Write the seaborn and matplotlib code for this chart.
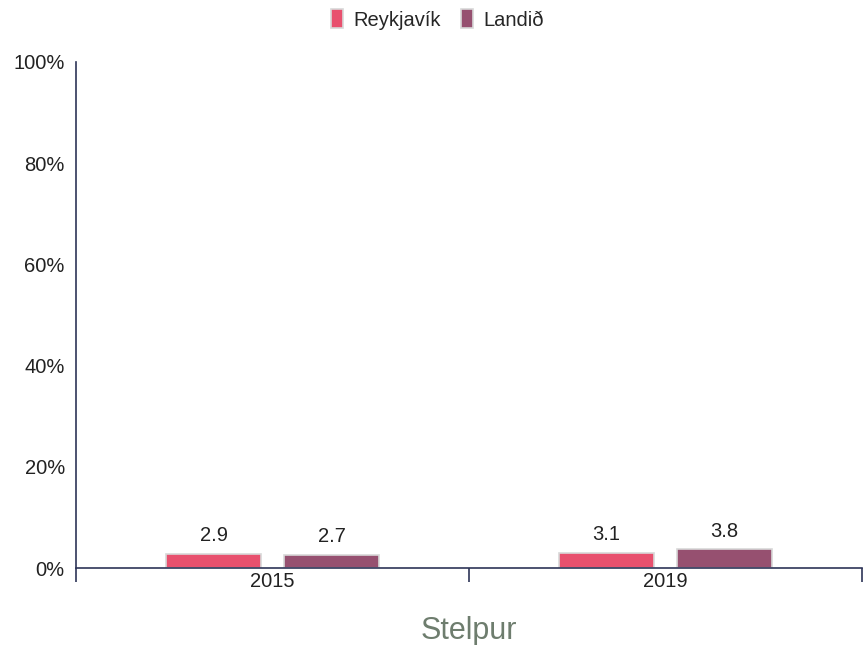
import pandas as pd
import matplotlib.pyplot as plt
import seaborn as sns
from matplotlib.ticker import FixedLocator

# Gögn lesin af myndinni
ar = ["2015", "2019"]
reykjavik = [2.9, 3.1]
landid = [2.7, 3.8]
hopar = ["Reykjavík", "Landið"]
litir = ["#e8506e", "#965070"]

df = pd.DataFrame({
    "Ár": ar * 2,
    "Hlutfall": reykjavik + landid,
    "Hópur": [hopar[0]] * len(ar) + [hopar[1]] * len(ar),
})

sns.set_style("white")
plt.rcParams["font.family"] = ["Liberation Sans", "DejaVu Sans"]

fig = plt.figure(figsize=(8.63, 6.45), dpi=100)
ax = fig.add_axes([0.088, 0.119, 0.911, 0.785])

sns.barplot(data=df, x="Ár", y="Hlutfall", hue="Hópur", palette=litir,
            width=0.6, gap=0.2, edgecolor="#d8d8d8", linewidth=1.2,
            saturation=1, ax=ax)

for cont in ax.containers:
    ax.bar_label(cont, labels=[f"{v:.1f}" for v in cont.datavalues],
                 padding=6, fontsize=14.5, color="#222222")

ax.set_ylim(0, 100)
ax.set_xlim(-0.5, 1.5)
ax.set_yticks([0, 20, 40, 60, 80, 100])
ax.set_yticklabels([f"{t}%" for t in [0, 20, 40, 60, 80, 100]], fontsize=14.5)
ax.tick_params(axis="y", length=0, pad=8, labelcolor="#222222")
ax.tick_params(axis="x", which="major", length=0, labelsize=14.5, pad=3,
               labelcolor="#222222")
ax.xaxis.set_minor_locator(FixedLocator([-0.5, 0.5, 1.5]))
ax.tick_params(axis="x", which="minor", bottom=True, length=10, width=1.2,
               color="#2e3558")

for s in ["top", "right"]:
    ax.spines[s].set_visible(False)
for s in ["left", "bottom"]:
    ax.spines[s].set_color("#2e3558")
    ax.spines[s].set_linewidth(1.2)

ax.set_ylabel("")
ax.set_xlabel("Stelpur", fontsize=22, color="#6e7d6e", labelpad=18)

ax.legend(loc="upper center", bbox_to_anchor=(0.46, 1.14), ncol=2,
          frameon=False, fontsize=14.5, handlelength=0.6, handleheight=1.1,
          handletextpad=0.5, columnspacing=1.0)

fig.savefig("out.png", dpi=100)
